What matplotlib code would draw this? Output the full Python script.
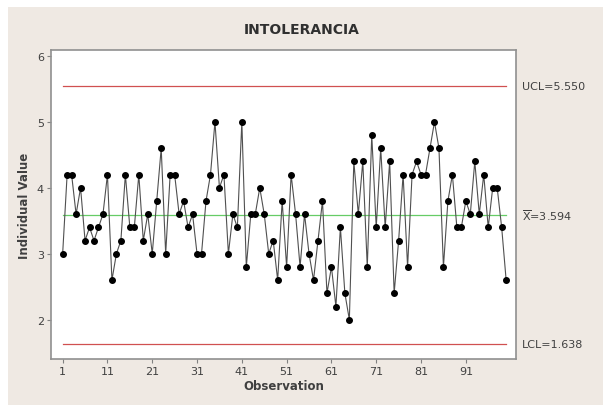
import numpy as np
import matplotlib.pyplot as plt
from matplotlib.patches import Rectangle

# individual values, observations 1..100
values = [3.0, 4.2, 4.2, 3.6, 4.0, 3.2, 3.4, 3.2, 3.4, 3.6,
          4.2, 2.6, 3.0, 3.2, 4.2, 3.4, 3.4, 4.2, 3.2, 3.6,
          3.0, 3.8, 4.6, 3.0, 4.2, 4.2, 3.6, 3.8, 3.4, 3.6,
          3.0, 3.0, 3.8, 4.2, 5.0, 4.0, 4.2, 3.0, 3.6, 3.4,
          5.0, 2.8, 3.6, 3.6, 4.0, 3.6, 3.0, 3.2, 2.6, 3.8,
          2.8, 4.2, 3.6, 2.8, 3.6, 3.0, 2.6, 3.2, 3.8, 2.4,
          2.8, 2.2, 3.4, 2.4, 2.0, 4.4, 3.6, 4.4, 2.8, 4.8,
          3.4, 4.6, 3.4, 4.4, 2.4, 3.2, 4.2, 2.8, 4.2, 4.4,
          4.2, 4.2, 4.6, 5.0, 4.6, 2.8, 3.8, 4.2, 3.4, 3.4,
          3.8, 3.6, 4.4, 3.6, 4.2, 3.4, 4.0, 4.0, 3.4, 2.6]
ucl = 5.550
center = 3.594
lcl = 1.638
xticks = [1, 11, 21, 31, 41, 51, 61, 71, 81, 91]
yticks = [2, 3, 4, 5, 6]

obs = np.arange(1, len(values) + 1)
bg = '#EFE9E3'
txt = '#404040'

fig = plt.figure(figsize=(6.03, 4.06), dpi=100)
fig.patch.set_facecolor('white')
fig.patches.append(Rectangle((8 / 603, 0), 1, 1 - 8 / 406, transform=fig.transFigure,
                             facecolor=bg, edgecolor='none', zorder=-10))

ax = fig.add_axes([51 / 603, 46 / 406, 465 / 603, 309 / 406])
ax.set_facecolor('white')

ax.plot([obs[0], obs[-1]], [ucl, ucl], color='#D05050', lw=0.9)
ax.plot([obs[0], obs[-1]], [lcl, lcl], color='#D05050', lw=0.9)
ax.plot([obs[0], obs[-1]], [center, center], color='#66CC66', lw=0.9)
ax.plot(obs, values, color='#505050', lw=0.8, marker='o', ms=4,
        mfc='black', mec='black', zorder=3)

ax.set_xlim(-1.6, 102.2)
ax.set_ylim(1.404, 6.09)
ax.set_xticks(xticks)
ax.set_yticks(yticks)
ax.tick_params(direction='out', length=3, width=0.8, color='#808080',
               labelsize=8, labelcolor=txt, pad=2)
for s in ax.spines.values():
    s.set_color('#909090')
    s.set_linewidth(1.2)

ax.set_xlabel('Observation', fontsize=8.5, fontweight='bold', color=txt, labelpad=2)
ax.set_ylabel('Individual Value', fontsize=8.5, fontweight='bold', color=txt, labelpad=4)
fig.text(0.5, 1 - 30 / 406, 'INTOLERANCIA', ha='center', va='center',
         fontsize=10, fontweight='bold', color='#303030')

tr = ax.get_yaxis_transform()
ax.text(1.013, ucl, 'UCL=5.550', transform=tr, va='center', ha='left',
        fontsize=8, color=txt, clip_on=False)
ax.text(1.013, center, r'$\overline{\mathrm{X}}$=3.594', transform=tr, va='center',
        ha='left', fontsize=8, color=txt, clip_on=False)
ax.text(1.013, lcl, 'LCL=1.638', transform=tr, va='center', ha='left',
        fontsize=8, color=txt, clip_on=False)

fig.savefig('out.png', dpi=100, facecolor=fig.get_facecolor())
